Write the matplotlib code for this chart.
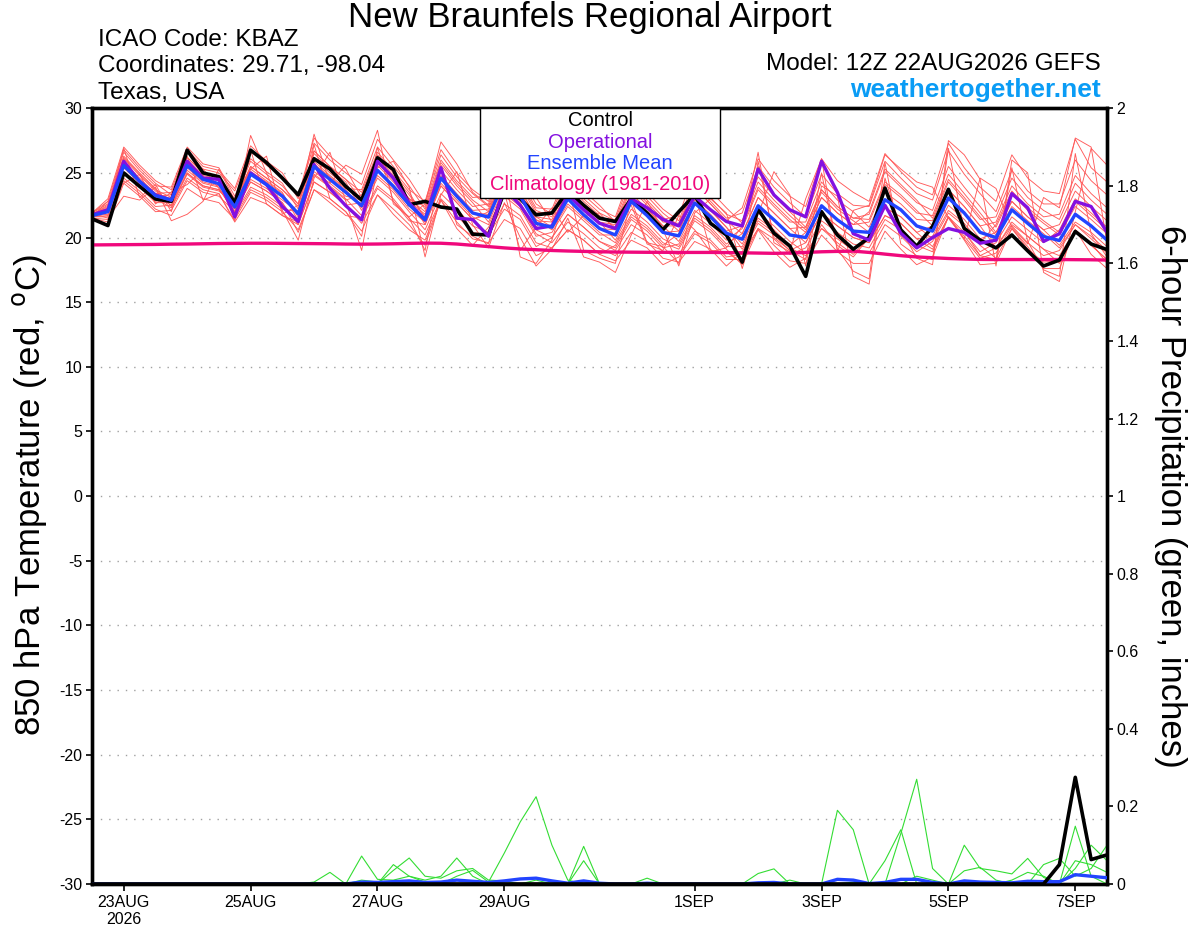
import matplotlib
matplotlib.use("Agg")
import matplotlib.pyplot as plt
import matplotlib.patches as patches
import numpy as np
import pandas as pd

plt.rcParams['font.family'] = ['Liberation Sans', 'DejaVu Sans']
plt.rcParams['axes.unicode_minus'] = False

# 6-hourly steps, 22AUG 12Z .. 7SEP 12Z
times = pd.date_range('2026-08-22 12:00', periods=65, freq='6h')

# 850 hPa temperature, deg C
control = [21.45, 20.93, 25.0, 23.96, 22.98, 22.8, 26.76, 25.0, 24.7, 22.67,
           26.76, 25.8, 24.6, 23.3, 26.1, 25.3, 23.96, 22.9, 26.17, 25.26,
           22.54, 22.8, 22.36, 22.2, 20.26, 20.2, 23.6, 23.0, 21.76, 21.9,
           23.6, 22.5, 21.5, 21.24, 23.0, 21.9, 20.6, 22.0, 23.3, 21.1,
           20.2, 18.1, 22.2, 20.34, 19.35, 17.0, 22.0, 20.2, 19.1, 20.0,
           23.83, 20.6, 19.33, 20.85, 23.73, 20.7, 19.8, 19.2, 20.2, 18.97,
           17.8, 18.26, 20.47, 19.5, 19.07]
operational = [21.76, 22.15, 25.9, 24.35, 23.3, 22.9, 25.9, 24.6, 24.5, 21.6,
               25.0, 24.1, 22.4, 21.24, 25.65, 23.8, 22.46, 21.37, 25.9, 24.6,
               22.67, 21.37, 25.4, 21.5, 21.4, 20.1, 23.8, 22.5, 20.7, 20.9,
               23.3, 22.15, 21.1, 20.7, 23.0, 22.3, 21.4, 20.9, 23.2, 22.15,
               21.24, 20.9, 25.3, 23.3, 22.15, 21.6, 25.9, 23.5, 20.3, 19.8,
               22.5, 20.34, 19.2, 20.0, 20.7, 20.4, 19.56, 19.8, 23.4, 22.3,
               19.7, 20.3, 22.8, 22.4, 20.4]
ens_mean = [21.7, 22.0, 25.57, 24.35, 23.24, 22.9, 25.57, 24.5, 24.17, 22.36,
            24.9, 24.1, 23.2, 21.84, 25.5, 24.5, 23.5, 22.46, 25.2, 23.96,
            22.54, 21.37, 24.6, 23.2, 21.9, 21.58, 24.4, 23.2, 21.1, 20.8,
            23.0, 21.76, 20.7, 20.2, 22.8, 21.7, 20.4, 20.13, 22.67, 21.6,
            20.34, 19.87, 22.46, 21.37, 20.2, 20.0, 22.46, 21.37, 20.5, 20.4,
            22.93, 22.15, 20.9, 20.5, 23.06, 21.9, 20.4, 20.0, 22.15, 21.1,
            20.08, 19.77, 21.8, 20.9, 19.8]
climatology = [19.43, 19.44, 19.45, 19.46, 19.47, 19.49, 19.5, 19.52, 19.54,
               19.55, 19.56, 19.56, 19.55, 19.54, 19.53, 19.52, 19.5, 19.49,
               19.5, 19.52, 19.55, 19.57, 19.56, 19.5, 19.4,
               19.3, 19.2, 19.12, 19.06, 19.0, 18.96, 18.93, 18.9,
               18.88, 18.87, 18.86, 18.86, 18.85, 18.85, 18.85, 18.84,
               18.82, 18.8, 18.78, 18.8, 18.85, 18.9, 18.93, 18.95,
               18.85, 18.72, 18.6, 18.5, 18.44, 18.38, 18.34, 18.31,
               18.3, 18.3, 18.3, 18.3, 18.3, 18.29, 18.28, 18.26]

# ensemble members (red)
mem_a = [21.9, 23.0, 27.0, 25.6, 24.4, 23.7, 26.8, 25.5, 25.2, 23.8, 27.1, 25.9, 25.0,
         23.0, 27.3, 26.0, 25.0, 24.1, 27.6, 26.0, 24.5, 22.6, 26.4, 24.7, 23.4,
         22.4, 25.6, 24.2, 22.1, 21.6, 24.2, 22.8, 21.7, 20.8, 23.8, 22.5, 21.2,
         21.1, 24.1, 22.8, 21.5, 21.9, 25.5, 23.9, 22.7, 21.6, 24.9, 23.4, 22.5,
         22.4, 25.9, 24.6, 23.4, 22.9, 26.7, 24.9, 23.4, 22.0, 25.2, 23.6, 22.6,
         22.6, 26.0, 24.4, 23.3]
mem_b = [21.5, 21.2, 24.4, 23.4, 22.2, 21.7, 23.8, 23.0, 22.7, 21.4, 23.5, 22.9, 22.0,
         20.6, 23.7, 23.0, 22.0, 20.5, 23.3, 21.8, 20.6, 19.8, 22.9, 21.2, 19.9,
         19.6, 21.4, 20.7, 18.6, 19.2, 20.6, 19.8, 18.7, 18.2, 19.8, 19.2, 17.9,
         18.5, 20.3, 19.6, 18.3, 18.3, 20.7, 19.4, 18.2, 18.0, 20.2, 18.9, 18.0,
         18.0, 20.5, 19.1, 17.9, 18.5, 21.6, 19.8, 17.9, 18.0, 20.7, 19.3, 17.6,
         17.6, 20.6, 19.6, 18.0]
mem_c = [21.8, 22.4, 26.2, 24.9, 23.7, 23.1, 26.0, 24.8, 24.5, 23.0, 25.9, 24.9, 24.0,
         22.6, 26.7, 25.5, 24.5, 23.5, 26.6, 25.2, 23.7, 22.8, 26.8, 25.0, 23.7,
         22.8, 26.2, 24.7, 22.6, 21.8, 24.4, 23.0, 21.9, 20.6, 23.4, 22.2, 20.9,
         19.7, 22.1, 21.1, 19.8, 20.7, 23.7, 22.4, 21.2, 21.2, 24.3, 22.9, 22.0,
         20.8, 23.5, 22.6, 21.4, 21.3, 24.3, 22.9, 21.4, 21.6, 24.6, 23.1, 22.1,
         21.4, 24.2, 22.9, 21.8]
mem_d = [21.6, 21.6, 25.0, 23.9, 22.7, 22.7, 25.2, 24.2, 23.9, 21.8, 23.9, 23.3, 22.4,
         21.4, 24.9, 24.0, 23.0, 21.7, 24.0, 23.0, 21.5, 20.2, 23.0, 21.7, 20.4,
         20.2, 22.2, 21.4, 19.3, 20.0, 21.8, 20.8, 19.7, 19.0, 21.0, 20.2, 18.9,
         18.7, 20.5, 19.8, 18.5, 18.7, 20.7, 19.9, 18.7, 19.2, 21.3, 20.4, 19.5,
         19.2, 21.4, 20.6, 19.4, 18.9, 21.6, 19.9, 18.4, 18.8, 20.9, 19.6, 18.6,
         19.0, 21.0, 19.9, 18.8]
mem_e = [21.9, 22.6, 26.6, 25.2, 24.0, 23.9, 27.0, 25.7, 25.4, 23.2, 26.1, 25.1, 24.2,
         22.2, 26.1, 25.0, 24.0, 22.9, 25.8, 24.5, 23.0, 22.0, 25.6, 24.0, 22.7,
         21.2, 23.8, 22.7, 20.6, 20.0, 21.8, 20.8, 19.7, 19.2, 21.4, 20.5, 19.2,
         19.5, 21.7, 20.8, 19.5, 20.3, 23.1, 21.9, 20.7, 20.8, 23.7, 22.4, 21.5,
         21.8, 25.1, 23.9, 22.7, 22.1, 25.5, 23.9, 22.4, 20.8, 23.4, 22.1, 21.1,
         20.2, 22.4, 21.4, 20.3]
mem_f = [21.5, 21.4, 24.6, 23.6, 22.4, 22.5, 25.0, 24.0, 23.7, 22.2, 24.5, 23.8, 22.9,
         22.0, 25.9, 24.8, 23.8, 23.7, 27.0, 25.5, 24.0, 22.2, 25.8, 24.2, 22.9,
         22.0, 25.0, 23.7, 21.6, 21.4, 24.0, 22.6, 21.5, 21.4, 24.6, 23.2, 21.9,
         20.9, 23.9, 22.6, 21.3, 20.3, 23.1, 21.9, 20.7, 19.6, 21.9, 20.9, 20.0,
         19.6, 21.7, 21.1, 19.9, 20.1, 22.5, 21.4, 19.9, 20.4, 22.8, 21.6, 20.6,
         21.0, 23.6, 22.4, 21.3]
mem_g = [21.7, 22.2, 25.8, 24.6, 23.4, 23.5, 26.6, 25.3, 25.0, 23.6, 26.7, 25.6, 24.7,
         23.2, 27.7, 26.3, 25.3, 23.1, 26.2, 24.8, 23.3, 21.6, 24.8, 23.4, 22.1,
         22.2, 25.4, 24.0, 21.9, 22.0, 24.8, 23.3, 22.2, 21.6, 25.0, 23.5, 22.2,
         21.3, 24.5, 23.1, 21.8, 21.3, 24.7, 23.2, 22.0, 20.8, 23.7, 22.4, 21.5,
         21.4, 24.3, 23.3, 22.1, 20.9, 23.7, 22.4, 20.9, 19.2, 21.2, 20.1, 19.1,
         18.6, 20.6, 19.4, 18.3]
mem_h = [21.7, 21.8, 25.4, 24.2, 23.0, 22.3, 24.6, 23.7, 23.4, 21.2, 23.1, 22.6, 21.7,
         21.0, 24.3, 23.5, 22.5, 21.1, 23.3, 22.2, 21.0, 19.4, 22.9, 20.7, 19.4,
         20.8, 23.2, 22.2, 20.1, 20.4, 22.4, 21.3, 20.2, 20.2, 22.8, 21.7, 20.4,
         20.5, 23.3, 22.1, 20.8, 19.5, 21.9, 20.9, 19.7, 18.8, 20.7, 19.9, 19.0,
         18.8, 21.0, 20.1, 18.9, 19.7, 21.9, 20.9, 19.4, 18.4, 20.7, 19.1, 18.1,
         18.2, 20.6, 19.4, 18.3]
mem_i = [21.9, 22.8, 26.8, 25.4, 24.2, 23.3, 26.2, 25.0, 24.7, 22.0, 24.3, 23.6, 22.7,
         21.0, 24.3, 23.5, 22.5, 22.7, 25.6, 24.3, 22.8, 21.8, 25.2, 23.7, 22.4,
         22.6, 25.8, 24.4, 22.3, 22.2, 25.2, 23.6, 22.5, 21.2, 24.2, 22.9, 21.6,
         20.5, 23.3, 22.1, 20.8, 19.1, 21.3, 20.4, 19.2, 18.6, 20.7, 19.6, 18.7,
         20.0, 22.3, 21.6, 20.4, 19.3, 21.6, 20.4, 18.9, 19.6, 21.6, 20.6, 19.6,
         20.6, 23.0, 21.9, 20.8]
mem_j = [21.5, 21.0, 24.2, 23.2, 22.0, 22.1, 24.4, 23.5, 23.2, 22.0, 24.3, 23.6, 22.7,
         20.4, 23.7, 22.7, 21.7, 21.5, 23.8, 22.8, 21.3, 21.0, 24.0, 22.7, 21.4,
         21.8, 24.8, 23.5, 21.4, 20.6, 22.6, 21.5, 20.4, 19.6, 21.8, 20.9, 19.6,
         19.1, 21.3, 20.4, 19.1, 17.9, 20.6, 18.9, 17.7, 18.4, 21.0, 19.4, 18.5,
         20.0, 22.3, 21.6, 20.4, 20.9, 23.7, 22.4, 20.9, 21.2, 24.0, 22.6, 21.6,
         21.8, 24.8, 23.4, 22.3]
mem_k = [21.8, 22.3, 26.1, 24.8, 23.6, 22.7, 25.4, 24.3, 24.0, 22.8, 25.5, 24.6, 23.7,
         22.4, 26.5, 25.3, 24.3, 22.1, 24.6, 23.5, 22.0, 20.6, 23.4, 22.2, 20.9,
         20.4, 22.6, 21.7, 19.6, 19.2, 20.6, 19.8, 18.7, 19.4, 21.6, 20.7, 19.4,
         20.3, 22.9, 21.8, 20.5, 20.9, 23.9, 22.6, 21.4, 20.4, 23.1, 21.9, 21.0,
         21.2, 24.1, 23.1, 21.9, 21.7, 24.9, 23.4, 21.9, 20.4, 22.8, 21.6, 20.6,
         19.4, 21.2, 20.4, 19.3]
mem_l = [21.7, 22.0, 25.6, 24.4, 23.2, 23.3, 26.2, 25.0, 24.7, 22.6, 25.1, 24.3, 23.4,
         21.6, 25.1, 24.2, 23.2, 22.9, 25.8, 24.5, 23.0, 22.4, 26.0, 24.4, 23.1,
         23.2, 26.8, 25.2, 23.1, 21.2, 23.6, 22.3, 21.2, 19.8, 22.2, 21.2, 19.9,
         19.3, 21.5, 20.6, 19.3, 19.3, 21.5, 20.6, 19.4, 20.4, 23.1, 21.9, 21.0,
         22.0, 25.3, 24.1, 22.9, 21.5, 24.5, 23.1, 21.6, 20.2, 22.4, 21.3, 20.3,
         19.2, 21.0, 20.1, 19.0]
mem_m = [21.6, 21.7, 25.1, 24.0, 22.8, 23.1, 25.8, 24.7, 24.4, 21.6, 23.7, 23.1, 22.2,
         22.0, 25.7, 24.7, 23.7, 22.3, 24.8, 23.7, 22.2, 21.2, 24.2, 22.9, 21.6,
         21.0, 23.4, 22.4, 20.3, 19.6, 21.2, 20.3, 19.2, 18.6, 20.4, 19.7, 18.4,
         18.1, 19.7, 19.1, 17.8, 18.9, 21.1, 20.2, 19.0, 19.6, 21.9, 20.9, 20.0,
         19.6, 21.7, 21.1, 19.9, 19.1, 21.6, 20.1, 18.6, 19.2, 21.0, 20.1, 19.1,
         18.0, 20.6, 18.7, 17.6]
mem_n = [21.8, 22.5, 26.3, 25.0, 23.8, 22.4, 24.9, 23.9, 23.6, 22.6, 25.3, 24.4, 23.5,
         21.3, 24.8, 23.9, 22.9, 23.3, 26.4, 25.0, 23.5, 21.4, 24.6, 23.2, 21.9,
         21.8, 24.6, 23.4, 21.3, 21.2, 23.6, 22.3, 21.2, 21.0, 24.0, 22.7, 21.4,
         21.7, 25.1, 23.6, 22.3, 21.1, 24.3, 22.9, 21.7, 20.6, 23.5, 22.2, 21.3,
         20.4, 22.9, 22.1, 20.9, 19.9, 22.1, 21.1, 19.6, 21.0, 23.6, 22.3, 21.3,
         20.4, 22.8, 21.7, 20.6]
mem_o = [21.7, 22.0, 25.6, 24.4, 23.2, 22.5, 25.0, 24.0, 23.7, 22.8, 25.5, 24.6, 23.7,
         22.6, 26.7, 25.5, 24.5, 22.9, 25.8, 24.5, 23.0, 21.0, 24.0, 22.7, 21.4,
         22.0, 25.0, 23.7, 21.6, 20.8, 23.0, 21.8, 20.7, 20.6, 23.4, 22.2, 20.9,
         20.9, 23.9, 22.6, 21.3, 22.3, 26.1, 24.4, 23.2, 22.4, 26.1, 24.4, 23.5,
         22.8, 26.5, 25.1, 23.9, 23.3, 27.3, 25.4, 23.9, 22.8, 26.4, 24.6, 23.6,
         23.4, 27.6, 25.4, 24.3]
mem_p = [21.6, 22.8, 24.2, 24.9, 22.6, 23.5, 24.1, 25.3, 23.8, 21.9, 27.9, 25.0, 22.1,
         19.8, 24.6, 26.6, 22.8, 19.0, 25.4, 25.9, 23.9, 18.5, 23.3, 25.1, 21.0,
         19.2, 22.7, 20.0, 17.8, 19.1, 21.5, 18.5, 18.1, 17.3, 20.2, 22.8, 20.6,
         17.8, 21.9, 23.0, 21.9, 17.6, 21.8, 25.1, 23.3, 17.8, 24.0, 23.2, 17.0,
         16.4, 24.6, 20.7, 18.4, 17.9, 27.5, 26.4, 24.5, 17.8, 26.0, 25.0, 17.3,
         16.6, 22.0, 26.9, 25.6]
mem_q = [21.9, 21.5, 23.2, 22.9, 23.9, 21.3, 21.8, 22.8, 25.3, 22.9, 25.3, 26.3, 21.8,
         22.5, 28.0, 24.2, 25.6, 24.9, 28.3, 22.6, 21.6, 22.6, 27.4, 25.7, 23.5,
         22.5, 23.5, 19.0, 20.8, 22.3, 20.4, 21.7, 21.9, 21.3, 22.5, 19.5, 19.0,
         21.7, 20.6, 18.9, 19.2, 20.9, 26.6, 19.6, 18.9, 23.0, 26.1, 18.9, 22.1,
         22.5, 26.4, 25.3, 24.3, 23.9, 21.5, 19.9, 24.6, 23.8, 20.8, 19.5, 23.1,
         22.3, 27.7, 27.0, 19.6]
mem_r = [21.7, 22.1, 26.9, 23.1, 24.1, 22.0, 26.3, 22.9, 23.4, 21.3, 26.8, 22.6, 21.7,
         21.2, 27.2, 23.0, 22.0, 20.1, 27.0, 22.8, 21.5, 19.0, 25.5, 21.0, 20.1,
         19.5, 25.0, 18.5, 18.0, 19.8, 24.0, 19.0, 18.4, 18.0, 22.9, 19.6, 19.3,
         18.0, 23.4, 19.0, 18.9, 18.0, 25.9, 20.0, 19.0, 18.3, 25.0, 19.1, 17.4,
         16.8, 25.8, 19.5, 18.6, 18.3, 26.9, 20.5, 18.6, 18.3, 25.4, 19.7, 17.5,
         17.0, 26.5, 20.3, 18.5]
red_members = [mem_a, mem_b, mem_c, mem_d, mem_e, mem_f, mem_g, mem_h, mem_i,
               mem_j, mem_k, mem_l, mem_m, mem_n, mem_o, mem_p, mem_q, mem_r]

# 6-hour precipitation, inches
pr_g1 = [0, 0, 0, 0, 0, 0, 0, 0, 0, 0, 0, 0, 0,
         0, 0, 0, 0, 0, 0, 0, 0, 0, 0, 0, 0, 0.005,
         0.08, 0.16, 0.225, 0.10, 0.01, 0, 0, 0, 0, 0, 0, 0, 0,
         0, 0, 0, 0.027, 0.039, 0, 0, 0, 0, 0, 0, 0, 0,
         0, 0, 0, 0, 0, 0, 0, 0, 0, 0, 0, 0, 0]
pr_g2 = [0, 0, 0, 0, 0, 0, 0, 0, 0, 0, 0, 0, 0,
         0, 0.005, 0.03, 0, 0.072, 0.012, 0.01, 0.02, 0.005, 0, 0, 0, 0,
         0, 0, 0, 0, 0, 0, 0, 0, 0, 0, 0, 0, 0,
         0, 0, 0, 0, 0, 0, 0, 0, 0.19, 0.14, 0, 0, 0,
         0, 0, 0, 0, 0, 0, 0, 0, 0, 0, 0, 0, 0]
pr_g3 = [0, 0, 0, 0, 0, 0, 0, 0, 0, 0, 0, 0, 0,
         0, 0, 0, 0, 0, 0, 0.05, 0.02, 0.01, 0.02, 0.067, 0.02, 0,
         0, 0, 0, 0, 0, 0, 0, 0, 0, 0.015, 0, 0, 0,
         0, 0, 0, 0, 0, 0, 0, 0, 0, 0, 0, 0.06, 0.14,
         0, 0, 0, 0.034, 0.043, 0.01, 0, 0, 0, 0, 0.04, 0.1, 0.06]
pr_g4 = [0, 0, 0, 0, 0, 0, 0, 0, 0, 0, 0, 0, 0,
         0, 0, 0, 0, 0, 0, 0.035, 0.067, 0.02, 0.015, 0.034, 0.04, 0.01,
         0.008, 0, 0.01, 0, 0, 0.097, 0, 0, 0, 0, 0, 0, 0,
         0, 0, 0, 0, 0, 0, 0, 0, 0, 0, 0, 0, 0.13,
         0.27, 0.04, 0, 0, 0, 0, 0, 0, 0, 0, 0, 0, 0]
pr_g5 = [0, 0, 0, 0, 0, 0, 0, 0, 0, 0, 0, 0, 0,
         0, 0, 0, 0, 0.01, 0.005, 0, 0, 0, 0, 0.02, 0.035, 0.005,
         0, 0, 0, 0, 0, 0.06, 0, 0, 0, 0, 0, 0, 0,
         0, 0, 0, 0, 0, 0, 0, 0, 0, 0, 0, 0, 0,
         0, 0, 0, 0.10, 0.04, 0.034, 0.026, 0.066, 0.017, 0, 0.149, 0.02, 0]
pr_g6 = [0, 0, 0, 0, 0, 0, 0, 0, 0, 0, 0, 0, 0,
         0, 0, 0, 0, 0, 0, 0, 0, 0, 0, 0, 0, 0,
         0, 0, 0, 0, 0, 0, 0, 0, 0, 0, 0, 0, 0,
         0, 0, 0, 0, 0, 0.01, 0, 0, 0, 0.005, 0, 0, 0,
         0.02, 0.01, 0, 0, 0, 0, 0, 0, 0.05, 0.066, 0.02, 0.04, 0.1]
pr_g7 = [0, 0, 0, 0, 0, 0, 0, 0, 0, 0, 0, 0, 0,
         0, 0, 0, 0, 0, 0, 0, 0, 0, 0, 0, 0, 0,
         0, 0, 0, 0, 0, 0, 0, 0, 0, 0, 0, 0, 0,
         0, 0, 0, 0, 0, 0, 0, 0, 0, 0, 0, 0, 0,
         0, 0, 0, 0, 0, 0, 0.01, 0.03, 0.02, 0, 0.06, 0.05, 0.03]
green_members = [pr_g1, pr_g2, pr_g3, pr_g4, pr_g5, pr_g6, pr_g7]
pr_mean = [0, 0, 0, 0, 0, 0, 0, 0, 0, 0, 0, 0, 0,
           0, 0, 0, 0, 0.005, 0.004, 0.006, 0.008, 0.004, 0.005, 0.01, 0.007, 0.004,
           0.008, 0.013, 0.015, 0.008, 0.002, 0.008, 0.002, 0, 0, 0.002, 0, 0, 0,
           0, 0, 0, 0.003, 0.004, 0, 0, 0, 0.012, 0.01, 0.001, 0.004, 0.012,
           0.012, 0.004, 0, 0.008, 0.005, 0.004, 0.003, 0.007, 0.006, 0.006, 0.024, 0.02, 0.016]
pr_control = [0, 0, 0, 0, 0, 0, 0, 0, 0, 0, 0, 0, 0,
              0, 0, 0, 0, 0, 0, 0, 0, 0, 0, 0, 0, 0,
              0, 0, 0, 0, 0, 0, 0, 0, 0, 0, 0, 0, 0,
              0, 0, 0, 0, 0, 0, 0, 0, 0, 0, 0, 0, 0,
              0, 0, 0, 0, 0, 0, 0, 0, 0, 0.05, 0.275, 0.063, 0.075]

tick_days = ['2026-08-23', '2026-08-25', '2026-08-27', '2026-08-29',
             '2026-09-01', '2026-09-03', '2026-09-05', '2026-09-07']
tick_labels = ['23AUG\n2026', '25AUG', '27AUG', '29AUG',
               '1SEP', '3SEP', '5SEP', '7SEP']

RED = '#ff5a5a'
GREEN = '#33dd33'
PURPLE = '#8410e0'
BLUE = '#2244ff'
PINK = '#f0087c'

fig = plt.figure(figsize=(12, 9.27), dpi=100)
ax = fig.add_axes([0.0767, 0.0464, 0.8458, 0.8368])
ax2 = ax.twinx()

for m in red_members:
    ax.plot(times, m, color=RED, lw=0.65, zorder=2)
ax.plot(times, climatology, color=PINK, lw=2.4, zorder=3)
ax.plot(times, control, color='black', lw=2.6, zorder=4)
ax.plot(times, operational, color=PURPLE, lw=2.4, zorder=5)
ax.plot(times, ens_mean, color=BLUE, lw=2.4, zorder=6)

for g in green_members:
    ax2.plot(times, g, color=GREEN, lw=0.8, zorder=2)
ax2.plot(times, pr_mean, color=BLUE, lw=2.4, zorder=3)
ax2.plot(times, pr_control, color='black', lw=2.6, zorder=4)

ax.set_xlim(times[0], times[-1])
ax.set_ylim(-30, 30)
ax2.set_ylim(0, 2)
ax.set_yticks(np.arange(-30, 31, 5))
ax2.set_yticks(np.arange(0, 2.01, 0.2))
ax2.set_yticklabels(['%g' % round(v, 1) for v in np.arange(0, 2.01, 0.2)])
ax.set_xticks(pd.to_datetime(tick_days))
ax.set_xticklabels(tick_labels)

ax.yaxis.grid(True, linestyle=(0, (1, 5)), color='#a0a0a0', lw=1.0)
ax.set_axisbelow(True)

for a in (ax, ax2):
    for s in a.spines.values():
        s.set_linewidth(2.4)
ax.tick_params(axis='y', labelsize=11.5, length=4, width=1.2, pad=3)
ax.tick_params(axis='x', labelsize=11.5, length=5, width=1.2, pad=3)
ax2.tick_params(axis='y', labelsize=11.5, length=4, width=1.2, pad=3)

# legend box
ax2.add_patch(patches.Rectangle((0.3823, 0.8844), 0.2364, 0.1156,
                                transform=ax2.transAxes, facecolor='white',
                                edgecolor='black', lw=1.0, zorder=10))
legend_items = [('Control', 'black'), ('Operational', PURPLE),
                ('Ensemble Mean', BLUE), ('Climatology (1981-2010)', PINK)]
for k, (txt, col) in enumerate(legend_items):
    ax2.text(0.5005, 0.9836 - k * 0.0274, txt, color=col, fontsize=14.5,
             ha='center', va='center', transform=ax2.transAxes, zorder=11)

# header
fig.text(590 / 1200, 1 - 18 / 927, 'New Braunfels Regional Airport',
         ha='center', va='center', fontsize=25)
fig.text(98 / 1200, 1 - 40 / 927, 'ICAO Code: KBAZ', ha='left', va='center', fontsize=17.5)
fig.text(98 / 1200, 1 - 66 / 927, 'Coordinates: 29.71, -98.04', ha='left', va='center', fontsize=17.5)
fig.text(98 / 1200, 1 - 93 / 927, 'Texas, USA', ha='left', va='center', fontsize=17.5)
fig.text(1101 / 1200, 1 - 64 / 927, 'Model: 12Z 22AUG2026 GEFS', ha='right', va='center', fontsize=17.5)
fig.text(1101 / 1200, 1 - 90 / 927, 'weathertogether.net', ha='right', va='center',
         fontsize=19, fontweight='bold', color='#0a9cf5')

fig.text(30 / 1200, 1 - 495 / 927, '850 hPa Temperature (red, $^{\\mathrm{o}}$C)',
         rotation=90, ha='center', va='center', fontsize=25)
fig.text(1170 / 1200, 1 - 496 / 927, '6-hour Precipitation (green, inches)',
         rotation=270, ha='center', va='center', fontsize=25)

fig.savefig('out.png', dpi=100)
